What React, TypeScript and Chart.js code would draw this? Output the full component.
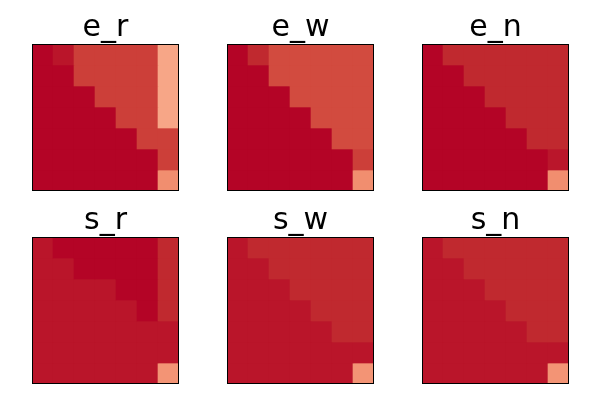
import React, { useEffect, useRef } from "react";
import { Chart, registerables } from "chart.js";

Chart.register(...registerables);

// ---- data ----
const columns = ["c0", "c1", "c2", "c3", "c4", "c5", "c6"];
const titles = ["e_r", "e_w", "e_n", "s_r", "s_w", "s_n"];

// values are normalised scores (0..1) shown through the coolwarm colormap
const e_r = [
  [1.0, 0.985, 0.935, 0.935, 0.935, 0.935, 0.72],
  [1.0, 1.0, 0.935, 0.935, 0.935, 0.935, 0.72],
  [1.0, 1.0, 1.0, 0.935, 0.935, 0.935, 0.72],
  [1.0, 1.0, 1.0, 1.0, 0.935, 0.935, 0.72],
  [1.0, 1.0, 1.0, 1.0, 1.0, 0.935, 0.935],
  [1.0, 1.0, 1.0, 1.0, 1.0, 1.0, 0.935],
  [1.0, 1.0, 1.0, 1.0, 1.0, 1.0, 0.78],
];
const e_w = [
  [1.0, 0.968, 0.915, 0.915, 0.915, 0.915, 0.915],
  [1.0, 1.0, 0.915, 0.915, 0.915, 0.915, 0.915],
  [1.0, 1.0, 1.0, 0.915, 0.915, 0.915, 0.915],
  [1.0, 1.0, 1.0, 1.0, 0.915, 0.915, 0.915],
  [1.0, 1.0, 1.0, 1.0, 1.0, 0.915, 0.915],
  [1.0, 1.0, 1.0, 1.0, 1.0, 1.0, 0.935],
  [1.0, 1.0, 1.0, 1.0, 1.0, 1.0, 0.78],
];
const e_n = [
  [1.0, 0.968, 0.968, 0.968, 0.968, 0.968, 0.968],
  [1.0, 1.0, 0.968, 0.968, 0.968, 0.968, 0.968],
  [1.0, 1.0, 1.0, 0.968, 0.968, 0.968, 0.968],
  [1.0, 1.0, 1.0, 1.0, 0.968, 0.968, 0.968],
  [1.0, 1.0, 1.0, 1.0, 1.0, 0.968, 0.968],
  [1.0, 1.0, 1.0, 1.0, 1.0, 1.0, 0.984],
  [1.0, 1.0, 1.0, 1.0, 1.0, 1.0, 0.78],
];
const s_r = [
  [0.985, 1.0, 1.0, 1.0, 1.0, 1.0, 0.968],
  [0.985, 0.985, 1.0, 1.0, 1.0, 1.0, 0.968],
  [0.985, 0.985, 0.985, 0.985, 1.0, 1.0, 0.968],
  [0.985, 0.985, 0.985, 0.985, 0.985, 1.0, 0.968],
  [0.985, 0.985, 0.985, 0.985, 0.985, 0.985, 0.985],
  [0.985, 0.985, 0.985, 0.985, 0.985, 0.985, 0.985],
  [0.985, 0.985, 0.985, 0.985, 0.985, 0.985, 0.765],
];
const s_w = [
  [0.985, 0.968, 0.968, 0.968, 0.968, 0.968, 0.968],
  [0.985, 0.985, 0.968, 0.968, 0.968, 0.968, 0.968],
  [0.985, 0.985, 0.985, 0.968, 0.968, 0.968, 0.968],
  [0.985, 0.985, 0.985, 0.985, 0.968, 0.968, 0.968],
  [0.985, 0.985, 0.985, 0.985, 0.985, 0.968, 0.968],
  [0.985, 0.985, 0.985, 0.985, 0.985, 0.985, 0.985],
  [0.985, 0.985, 0.985, 0.985, 0.985, 0.985, 0.765],
];
const s_n = [
  [0.985, 0.968, 0.968, 0.968, 0.968, 0.968, 0.968],
  [0.985, 0.985, 0.968, 0.968, 0.968, 0.968, 0.968],
  [0.985, 0.985, 0.985, 0.968, 0.968, 0.968, 0.968],
  [0.985, 0.985, 0.985, 0.985, 0.968, 0.968, 0.968],
  [0.985, 0.985, 0.985, 0.985, 0.985, 0.968, 0.968],
  [0.985, 0.985, 0.985, 0.985, 0.985, 0.985, 0.985],
  [0.985, 0.985, 0.985, 0.985, 0.985, 0.985, 0.765],
];
const matrices = [e_r, e_w, e_n, s_r, s_w, s_n];

// coolwarm colormap (Moreland), 33 anchors
const COOLWARM: number[][] = [
  [59, 76, 192], [68, 90, 204], [77, 104, 215], [87, 117, 225], [98, 130, 234],
  [108, 142, 241], [119, 154, 247], [130, 165, 251], [141, 176, 254], [152, 185, 255],
  [163, 194, 255], [174, 201, 253], [184, 208, 249], [194, 213, 244], [204, 217, 238],
  [213, 219, 230], [221, 221, 221], [229, 216, 209], [236, 211, 197], [241, 204, 185],
  [245, 196, 173], [247, 187, 160], [247, 177, 148], [247, 166, 135], [244, 154, 123],
  [241, 141, 111], [236, 127, 99], [229, 112, 88], [222, 96, 77], [213, 80, 66],
  [203, 62, 56], [192, 40, 47], [180, 4, 38],
];
function coolwarm(v: number): string {
  const t = Math.max(0, Math.min(1, v)) * (COOLWARM.length - 1);
  const i = Math.min(COOLWARM.length - 2, Math.floor(t));
  const f = t - i;
  const a = COOLWARM[i];
  const b = COOLWARM[i + 1];
  const c = a.map((x, k) => Math.round(x + (b[k] - x) * f));
  return `rgb(${c[0]},${c[1]},${c[2]})`;
}

const framePlugin = {
  id: "frame",
  afterDatasetsDraw(chart: any) {
    const { ctx, chartArea } = chart;
    ctx.save();
    ctx.strokeStyle = "#000";
    ctx.lineWidth = 1;
    ctx.strokeRect(
      chartArea.left + 0.5,
      chartArea.top + 0.5,
      chartArea.right - chartArea.left - 1,
      chartArea.bottom - chartArea.top - 1
    );
    ctx.restore();
  },
};

const PANEL_W = 147;
const PANEL_H = 191;
const lefts = [32, 227, 422];
const tops = [0, 193];

function Panel({ title, matrix, left, top }: { title: string; matrix: number[][]; left: number; top: number }) {
  const ref = useRef<HTMLCanvasElement | null>(null);
  useEffect(() => {
    if (!ref.current) return;
    const datasets = matrix.map((row, r) => ({
      label: `row ${r}`,
      data: row.map(() => [r, r + 1]),
      backgroundColor: row.map((v) => coolwarm(v)),
      borderWidth: 0,
      barPercentage: 1,
      categoryPercentage: 1,
      grouped: false,
    }));
    const chart = new Chart(ref.current, {
      type: "bar",
      data: { labels: columns, datasets: datasets as any },
      options: {
        responsive: false,
        animation: false,
        devicePixelRatio: 1,
        layout: { padding: { top: 13, left: 0, right: 0, bottom: 0 } },
        scales: {
          x: { display: false, offset: true },
          y: { display: false, reverse: true, min: 0, max: 7 },
        },
        plugins: {
          legend: { display: false },
          tooltip: { enabled: false },
          title: {
            display: true,
            text: title,
            color: "#000",
            font: { family: "'DejaVu Sans'", size: 30, weight: "normal" as any, lineHeight: 1 },
            padding: { top: 0, bottom: 1 },
          },
        },
      } as any,
      plugins: [framePlugin],
    });
    return () => chart.destroy();
  }, [title, matrix]);
  return (
    <div style={{ position: "absolute", left, top, width: PANEL_W, height: PANEL_H }}>
      <canvas ref={ref} width={PANEL_W} height={PANEL_H} style={{ width: PANEL_W, height: PANEL_H, display: "block" }} />
    </div>
  );
}

export default function App() {
  return (
    <div style={{ position: "absolute", left: 0, top: 0, width: 600, height: 400, background: "#fff" }}>
      {titles.map((t, i) => (
        <Panel key={t} title={t} matrix={matrices[i]} left={lefts[i % 3]} top={tops[Math.floor(i / 3)]} />
      ))}
    </div>
  );
}
